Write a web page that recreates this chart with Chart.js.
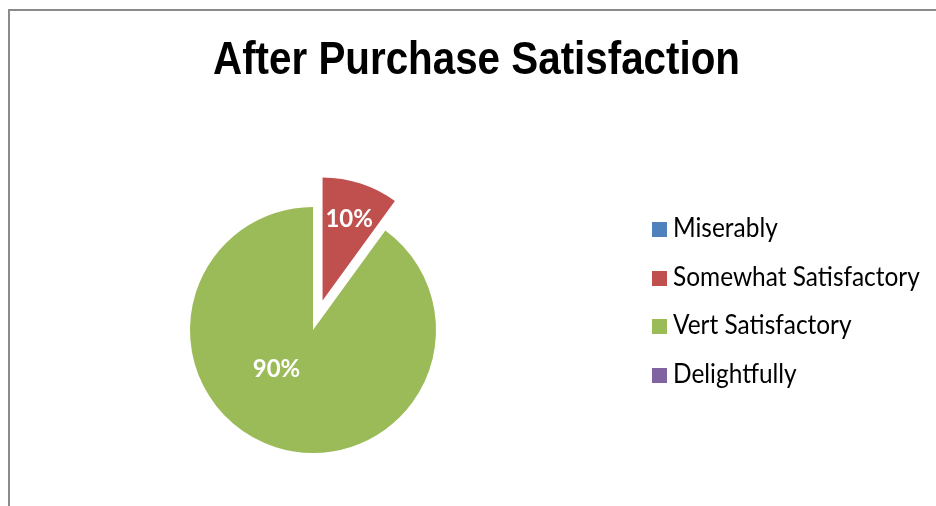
<!DOCTYPE html>
<html lang="en"><head>
<meta charset="utf-8">
<title>After Purchase Satisfaction</title>
<style>
* { margin: 0; padding: 0; }
body { background: #ffffff; width: 936px; height: 506px; overflow: hidden; }
#pie { display: block; }
</style>
</head>
<body>
<canvas id="pie" width="936" height="506"></canvas>
<script src="https://cdn.jsdelivr.net/npm/chart.js@4/dist/chart.umd.min.js"></script>
<script>
// answers to the survey question
const categories = ["Miserably", "Somewhat Satisfactory", "Vert Satisfactory", "Delightfully"];
const shares = [0, 10, 90, 0];
const sliceColors = ["#4F81BD", "#C0504D", "#9BBB59", "#8064A2"];
const chartTitle = "After Purchase Satisfaction";

// pulled-out slice distance (px), per slice
const explode = [0, 31, 0, 0];
// where each % label sits: [fraction along the slice, fraction of radius]
const labelSpots = [[0.5, 0.7], [0.5, 0.7], [0.579, 0.43], [0.5, 0.7]];

//frame line around the chart object
const framePlugin = {
  id: "frame",
  beforeDraw(chart) {
    const ctx = chart.ctx;
    ctx.save();
    ctx.fillStyle = "#8a8a8a";
    ctx.fillRect(8, 9, chart.width, 2);
    ctx.fillRect(8, 9, 2, chart.height);
    ctx.restore();
  }
};

//move exploded slices out along their middle angle
const explodePlugin = {
  id: "explode",
  afterDatasetUpdate(chart, args) {
    const arcs = chart.getDatasetMeta(args.index).data;
    arcs.forEach((arc, i) => {
      const d = explode[i] || 0;
      if (!d) return;
      const mid = (arc.startAngle + arc.endAngle) / 2;
      arc.x += Math.cos(mid) * d;
      arc.y += Math.sin(mid) * d;
    });
  }
};

//draw text squeezed horizontally (narrow look)
function narrowText(ctx, text, x, y, sx) {
  ctx.save();
  ctx.translate(x, y);
  ctx.scale(sx, 1);
  ctx.fillText(text, 0, 0);
  ctx.restore();
}

//title, percent labels and legend
const textPlugin = {
  id: "texts",
  afterDatasetsDraw(chart) {
    const ctx = chart.ctx;
    const values = chart.data.datasets[0].data;
    const total = values.reduce((a, b) => a + b, 0);
    const arcs = chart.getDatasetMeta(0).data;
    ctx.save();
    ctx.fillStyle = "#ffffff";
    ctx.font = "bold 24px Lato";
    ctx.textAlign = "center";
    ctx.textBaseline = "middle";
    arcs.forEach((arc, i) => {
      if (!values[i]) return;
      const spot = labelSpots[i];
      const a = arc.startAngle + (arc.endAngle - arc.startAngle) * spot[0];
      const r = arc.outerRadius * spot[1];
      const pct = Math.round(values[i] / total * 100) + "%";
      ctx.fillText(pct, arc.x + Math.cos(a) * r, arc.y + Math.sin(a) * r + 1);
    });

    // title
    ctx.fillStyle = "#000000";
    ctx.font = "bold 46px 'Liberation Sans'";
    ctx.textBaseline = "alphabetic";
    const tw = ctx.measureText(chartTitle).width;
    narrowText(ctx, chartTitle, 476.5, 74, 527 / tw);

    // legend
    ctx.textAlign = "left";
    ctx.font = "26px Lato";
    chart.data.labels.forEach((label, i) => {
      const cy = 229.5 + i * 48.5;
      ctx.fillStyle = chart.data.datasets[0].backgroundColor[i];
      ctx.fillRect(652, Math.round(cy - 7.5), 15, 15);
      ctx.fillStyle = "#000000";
      narrowText(ctx, label, 673, cy + 7.5, 0.94);
    });
    ctx.restore();
  }
};

new Chart(document.getElementById("pie"), {
  type: "pie",
  plugins: [framePlugin, explodePlugin, textPlugin],
  data: {
    labels: categories,
    datasets: [{
      data: shares,
      backgroundColor: sliceColors,
      borderWidth: 0,
      radius: 123
    }]
  },
  options: {
    responsive: false,
    animation: false,
    events: [],
    layout: { padding: { left: 180, right: 490, top: 200, bottom: 46 } },
    plugins: {
      legend: { display: false },
      tooltip: { enabled: false },
      title: { display: false }
    }
  }
});
</script>
</body></html>
